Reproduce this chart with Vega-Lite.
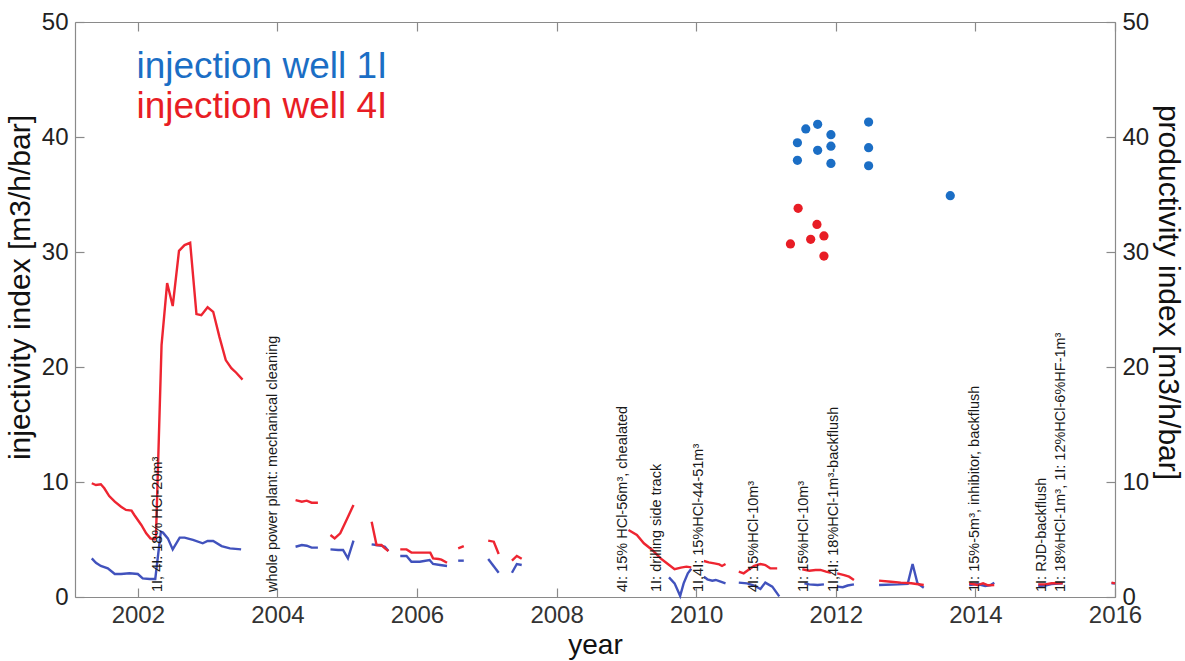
{
  "$schema": "https://vega.github.io/schema/vega-lite/v6.json",
  "width": 1040,
  "height": 575,
  "autosize": "none",
  "padding": {"left": 75, "top": 22, "right": 70, "bottom": 64},
  "background": "white",
  "config": {
    "view": {"stroke": null},
    "font": "Liberation Sans",
    "axis": {
      "grid": false,
      "domainColor": "#8a8a8a",
      "tickColor": "#8a8a8a",
      "domainWidth": 1.2,
      "tickWidth": 1.2,
      "tickSize": -9,
      "labelFlush": false,
      "labelFont": "Liberation Sans",
      "titleFont": "Liberation Sans",
      "labelColor": "#222222",
      "titleColor": "#111111",
      "titleFontWeight": "normal"
    },
    "text": {"font": "Liberation Sans"}
  },
  "datasets": {
    "lines": [
      {"series": "1I", "seg": 1, "year": 2001.34, "v": 3.36},
      {"series": "1I", "seg": 1, "year": 2001.40, "v": 2.98},
      {"series": "1I", "seg": 1, "year": 2001.47, "v": 2.70},
      {"series": "1I", "seg": 1, "year": 2001.57, "v": 2.49},
      {"series": "1I", "seg": 1, "year": 2001.67, "v": 2.0},
      {"series": "1I", "seg": 1, "year": 2001.76, "v": 2.0},
      {"series": "1I", "seg": 1, "year": 2001.88, "v": 2.06},
      {"series": "1I", "seg": 1, "year": 2002.0, "v": 2.0},
      {"series": "1I", "seg": 1, "year": 2002.07, "v": 1.62},
      {"series": "1I", "seg": 1, "year": 2002.17, "v": 1.57},
      {"series": "1I", "seg": 1, "year": 2002.25, "v": 1.57},
      {"series": "1I", "seg": 1, "year": 2002.33, "v": 5.68},
      {"series": "1I", "seg": 1, "year": 2002.36, "v": 5.6},
      {"series": "1I", "seg": 1, "year": 2002.43, "v": 5.10},
      {"series": "1I", "seg": 1, "year": 2002.50, "v": 4.14},
      {"series": "1I", "seg": 1, "year": 2002.60, "v": 5.16},
      {"series": "1I", "seg": 1, "year": 2002.67, "v": 5.16},
      {"series": "1I", "seg": 1, "year": 2002.79, "v": 4.96},
      {"series": "1I", "seg": 1, "year": 2002.93, "v": 4.67},
      {"series": "1I", "seg": 1, "year": 2003.00, "v": 4.87},
      {"series": "1I", "seg": 1, "year": 2003.08, "v": 4.87},
      {"series": "1I", "seg": 1, "year": 2003.20, "v": 4.43},
      {"series": "1I", "seg": 1, "year": 2003.32, "v": 4.23},
      {"series": "1I", "seg": 1, "year": 2003.48, "v": 4.14},
      {"series": "1I", "seg": 2, "year": 2004.26, "v": 4.37},
      {"series": "1I", "seg": 2, "year": 2004.35, "v": 4.52},
      {"series": "1I", "seg": 2, "year": 2004.42, "v": 4.46},
      {"series": "1I", "seg": 2, "year": 2004.49, "v": 4.29},
      {"series": "1I", "seg": 2, "year": 2004.58, "v": 4.29},
      {"series": "1I", "seg": 3, "year": 2004.76, "v": 4.14},
      {"series": "1I", "seg": 3, "year": 2004.87, "v": 4.09},
      {"series": "1I", "seg": 3, "year": 2004.94, "v": 4.09},
      {"series": "1I", "seg": 3, "year": 2005.01, "v": 3.36},
      {"series": "1I", "seg": 3, "year": 2005.09, "v": 4.90},
      {"series": "1I", "seg": 4, "year": 2005.35, "v": 4.58},
      {"series": "1I", "seg": 4, "year": 2005.42, "v": 4.52},
      {"series": "1I", "seg": 4, "year": 2005.49, "v": 4.46},
      {"series": "1I", "seg": 4, "year": 2005.54, "v": 4.37},
      {"series": "1I", "seg": 4, "year": 2005.59, "v": 3.99},
      {"series": "1I", "seg": 5, "year": 2005.76, "v": 3.57},
      {"series": "1I", "seg": 5, "year": 2005.85, "v": 3.57},
      {"series": "1I", "seg": 5, "year": 2005.92, "v": 3.07},
      {"series": "1I", "seg": 5, "year": 2006.04, "v": 3.07},
      {"series": "1I", "seg": 5, "year": 2006.18, "v": 3.22},
      {"series": "1I", "seg": 5, "year": 2006.23, "v": 2.87},
      {"series": "1I", "seg": 5, "year": 2006.33, "v": 2.78},
      {"series": "1I", "seg": 5, "year": 2006.43, "v": 2.70},
      {"series": "1I", "seg": 6, "year": 2006.59, "v": 3.16},
      {"series": "1I", "seg": 6, "year": 2006.67, "v": 3.16},
      {"series": "1I", "seg": 7, "year": 2007.02, "v": 3.30},
      {"series": "1I", "seg": 7, "year": 2007.17, "v": 2.11},
      {"series": "1I", "seg": 8, "year": 2007.36, "v": 2.11},
      {"series": "1I", "seg": 8, "year": 2007.43, "v": 2.87},
      {"series": "1I", "seg": 8, "year": 2007.50, "v": 2.78},
      {"series": "1I", "seg": 9, "year": 2009.61, "v": 1.7},
      {"series": "1I", "seg": 9, "year": 2009.69, "v": 1.19},
      {"series": "1I", "seg": 9, "year": 2009.77, "v": 0.1},
      {"series": "1I", "seg": 9, "year": 2009.82, "v": 1.19},
      {"series": "1I", "seg": 9, "year": 2009.88, "v": 2.06},
      {"series": "1I", "seg": 9, "year": 2009.93, "v": 2.45},
      {"series": "1I", "seg": 10, "year": 2010.11, "v": 1.77},
      {"series": "1I", "seg": 10, "year": 2010.16, "v": 1.54},
      {"series": "1I", "seg": 10, "year": 2010.23, "v": 1.42},
      {"series": "1I", "seg": 10, "year": 2010.28, "v": 1.48},
      {"series": "1I", "seg": 10, "year": 2010.35, "v": 1.33},
      {"series": "1I", "seg": 10, "year": 2010.42, "v": 1.19},
      {"series": "1I", "seg": 11, "year": 2010.61, "v": 1.25},
      {"series": "1I", "seg": 11, "year": 2010.73, "v": 1.19},
      {"series": "1I", "seg": 11, "year": 2010.83, "v": 1.0},
      {"series": "1I", "seg": 11, "year": 2010.92, "v": 0.7},
      {"series": "1I", "seg": 11, "year": 2010.99, "v": 1.25},
      {"series": "1I", "seg": 11, "year": 2011.09, "v": 0.9},
      {"series": "1I", "seg": 11, "year": 2011.19, "v": 0.05},
      {"series": "1I", "seg": 12, "year": 2011.55, "v": 1.19},
      {"series": "1I", "seg": 12, "year": 2011.62, "v": 1.10},
      {"series": "1I", "seg": 12, "year": 2011.74, "v": 1.04},
      {"series": "1I", "seg": 12, "year": 2011.83, "v": 1.10},
      {"series": "1I", "seg": 13, "year": 2012.02, "v": 0.9},
      {"series": "1I", "seg": 13, "year": 2012.10, "v": 0.85},
      {"series": "1I", "seg": 13, "year": 2012.17, "v": 1.0},
      {"series": "1I", "seg": 13, "year": 2012.26, "v": 1.1},
      {"series": "1I", "seg": 14, "year": 2012.62, "v": 1.04},
      {"series": "1I", "seg": 14, "year": 2012.89, "v": 1.10},
      {"series": "1I", "seg": 14, "year": 2013.03, "v": 1.15},
      {"series": "1I", "seg": 14, "year": 2013.10, "v": 2.87},
      {"series": "1I", "seg": 14, "year": 2013.17, "v": 1.19},
      {"series": "1I", "seg": 14, "year": 2013.26, "v": 0.81},
      {"series": "1I", "seg": 15, "year": 2013.91, "v": 1.04},
      {"series": "1I", "seg": 15, "year": 2014.03, "v": 1.13},
      {"series": "1I", "seg": 15, "year": 2014.14, "v": 0.96},
      {"series": "1I", "seg": 15, "year": 2014.22, "v": 1.04},
      {"series": "1I", "seg": 15, "year": 2014.27, "v": 1.25},
      {"series": "1I", "seg": 16, "year": 2014.90, "v": 0.96},
      {"series": "1I", "seg": 16, "year": 2015.0, "v": 1.0},
      {"series": "1I", "seg": 16, "year": 2015.09, "v": 1.13},
      {"series": "1I", "seg": 16, "year": 2015.25, "v": 1.19},
      {"series": "1I", "seg": 17, "year": 2015.95, "v": 1.19},
      {"series": "1I", "seg": 17, "year": 2016.0, "v": 1.19},
      {"series": "4I", "seg": 1, "year": 2001.34, "v": 9.89},
      {"series": "4I", "seg": 1, "year": 2001.40, "v": 9.74},
      {"series": "4I", "seg": 1, "year": 2001.47, "v": 9.80},
      {"series": "4I", "seg": 1, "year": 2001.52, "v": 9.45},
      {"series": "4I", "seg": 1, "year": 2001.59, "v": 8.78},
      {"series": "4I", "seg": 1, "year": 2001.67, "v": 8.29},
      {"series": "4I", "seg": 1, "year": 2001.76, "v": 7.85},
      {"series": "4I", "seg": 1, "year": 2001.83, "v": 7.57},
      {"series": "4I", "seg": 1, "year": 2001.91, "v": 7.51},
      {"series": "4I", "seg": 1, "year": 2001.95, "v": 7.13},
      {"series": "4I", "seg": 1, "year": 2002.05, "v": 6.26},
      {"series": "4I", "seg": 1, "year": 2002.12, "v": 5.54},
      {"series": "4I", "seg": 1, "year": 2002.18, "v": 5.10},
      {"series": "4I", "seg": 1, "year": 2002.24, "v": 5.01},
      {"series": "4I", "seg": 1, "year": 2002.26, "v": 5.25},
      {"series": "4I", "seg": 1, "year": 2002.34, "v": 21.9},
      {"series": "4I", "seg": 1, "year": 2002.42, "v": 27.3},
      {"series": "4I", "seg": 1, "year": 2002.50, "v": 25.3},
      {"series": "4I", "seg": 1, "year": 2002.59, "v": 30.1},
      {"series": "4I", "seg": 1, "year": 2002.67, "v": 30.6},
      {"series": "4I", "seg": 1, "year": 2002.75, "v": 30.8},
      {"series": "4I", "seg": 1, "year": 2002.84, "v": 24.6},
      {"series": "4I", "seg": 1, "year": 2002.91, "v": 24.5},
      {"series": "4I", "seg": 1, "year": 2003.00, "v": 25.2},
      {"series": "4I", "seg": 1, "year": 2003.08, "v": 24.8},
      {"series": "4I", "seg": 1, "year": 2003.17, "v": 22.6},
      {"series": "4I", "seg": 1, "year": 2003.26, "v": 20.6},
      {"series": "4I", "seg": 1, "year": 2003.34, "v": 19.9},
      {"series": "4I", "seg": 1, "year": 2003.41, "v": 19.5},
      {"series": "4I", "seg": 1, "year": 2003.50, "v": 18.9},
      {"series": "4I", "seg": 2, "year": 2004.26, "v": 8.43},
      {"series": "4I", "seg": 2, "year": 2004.35, "v": 8.29},
      {"series": "4I", "seg": 2, "year": 2004.42, "v": 8.38},
      {"series": "4I", "seg": 2, "year": 2004.49, "v": 8.20},
      {"series": "4I", "seg": 2, "year": 2004.58, "v": 8.20},
      {"series": "4I", "seg": 3, "year": 2004.76, "v": 5.39},
      {"series": "4I", "seg": 3, "year": 2004.82, "v": 5.10},
      {"series": "4I", "seg": 3, "year": 2004.90, "v": 5.54},
      {"series": "4I", "seg": 3, "year": 2004.99, "v": 6.70},
      {"series": "4I", "seg": 3, "year": 2005.09, "v": 8.0},
      {"series": "4I", "seg": 4, "year": 2005.35, "v": 6.55},
      {"series": "4I", "seg": 4, "year": 2005.42, "v": 4.52},
      {"series": "4I", "seg": 4, "year": 2005.49, "v": 4.52},
      {"series": "4I", "seg": 4, "year": 2005.54, "v": 4.23},
      {"series": "4I", "seg": 4, "year": 2005.59, "v": 4.00},
      {"series": "4I", "seg": 5, "year": 2005.76, "v": 4.14},
      {"series": "4I", "seg": 5, "year": 2005.85, "v": 4.14},
      {"series": "4I", "seg": 5, "year": 2005.92, "v": 3.86},
      {"series": "4I", "seg": 5, "year": 2006.04, "v": 3.86},
      {"series": "4I", "seg": 5, "year": 2006.19, "v": 3.86},
      {"series": "4I", "seg": 5, "year": 2006.23, "v": 3.36},
      {"series": "4I", "seg": 5, "year": 2006.31, "v": 3.30},
      {"series": "4I", "seg": 5, "year": 2006.35, "v": 3.25},
      {"series": "4I", "seg": 5, "year": 2006.43, "v": 2.98},
      {"series": "4I", "seg": 6, "year": 2006.59, "v": 4.23},
      {"series": "4I", "seg": 6, "year": 2006.67, "v": 4.43},
      {"series": "4I", "seg": 7, "year": 2007.02, "v": 4.90},
      {"series": "4I", "seg": 7, "year": 2007.10, "v": 4.81},
      {"series": "4I", "seg": 7, "year": 2007.17, "v": 3.74},
      {"series": "4I", "seg": 8, "year": 2007.36, "v": 3.16},
      {"series": "4I", "seg": 8, "year": 2007.43, "v": 3.57},
      {"series": "4I", "seg": 8, "year": 2007.50, "v": 3.33},
      {"series": "4I", "seg": 9, "year": 2009.03, "v": 5.83},
      {"series": "4I", "seg": 9, "year": 2009.15, "v": 5.39},
      {"series": "4I", "seg": 9, "year": 2009.25, "v": 4.67},
      {"series": "4I", "seg": 9, "year": 2009.37, "v": 4.09},
      {"series": "4I", "seg": 9, "year": 2009.49, "v": 3.36},
      {"series": "4I", "seg": 9, "year": 2009.58, "v": 2.93},
      {"series": "4I", "seg": 9, "year": 2009.69, "v": 2.41},
      {"series": "4I", "seg": 9, "year": 2009.78, "v": 2.55},
      {"series": "4I", "seg": 9, "year": 2009.86, "v": 2.64},
      {"series": "4I", "seg": 9, "year": 2009.93, "v": 2.58},
      {"series": "4I", "seg": 10, "year": 2010.11, "v": 3.13},
      {"series": "4I", "seg": 10, "year": 2010.18, "v": 3.01},
      {"series": "4I", "seg": 10, "year": 2010.26, "v": 2.93},
      {"series": "4I", "seg": 10, "year": 2010.33, "v": 2.84},
      {"series": "4I", "seg": 10, "year": 2010.37, "v": 2.70},
      {"series": "4I", "seg": 10, "year": 2010.42, "v": 2.87},
      {"series": "4I", "seg": 11, "year": 2010.61, "v": 2.20},
      {"series": "4I", "seg": 11, "year": 2010.68, "v": 2.06},
      {"series": "4I", "seg": 11, "year": 2010.76, "v": 2.41},
      {"series": "4I", "seg": 11, "year": 2010.83, "v": 2.7},
      {"series": "4I", "seg": 11, "year": 2010.92, "v": 2.87},
      {"series": "4I", "seg": 11, "year": 2010.99, "v": 2.78},
      {"series": "4I", "seg": 11, "year": 2011.06, "v": 2.49},
      {"series": "4I", "seg": 11, "year": 2011.16, "v": 2.49},
      {"series": "4I", "seg": 12, "year": 2011.52, "v": 2.41},
      {"series": "4I", "seg": 12, "year": 2011.62, "v": 2.29},
      {"series": "4I", "seg": 12, "year": 2011.71, "v": 2.35},
      {"series": "4I", "seg": 12, "year": 2011.78, "v": 2.35},
      {"series": "4I", "seg": 12, "year": 2011.86, "v": 2.2},
      {"series": "4I", "seg": 12, "year": 2011.93, "v": 2.1},
      {"series": "4I", "seg": 13, "year": 2012.02, "v": 2.06},
      {"series": "4I", "seg": 13, "year": 2012.12, "v": 1.91},
      {"series": "4I", "seg": 13, "year": 2012.19, "v": 1.77},
      {"series": "4I", "seg": 13, "year": 2012.26, "v": 1.48},
      {"series": "4I", "seg": 14, "year": 2012.62, "v": 1.42},
      {"series": "4I", "seg": 14, "year": 2012.79, "v": 1.33},
      {"series": "4I", "seg": 14, "year": 2012.93, "v": 1.25},
      {"series": "4I", "seg": 14, "year": 2013.08, "v": 1.19},
      {"series": "4I", "seg": 14, "year": 2013.26, "v": 1.04},
      {"series": "4I", "seg": 15, "year": 2013.91, "v": 1.19},
      {"series": "4I", "seg": 15, "year": 2014.03, "v": 1.04},
      {"series": "4I", "seg": 15, "year": 2014.11, "v": 1.19},
      {"series": "4I", "seg": 15, "year": 2014.18, "v": 1.02},
      {"series": "4I", "seg": 15, "year": 2014.27, "v": 1.04},
      {"series": "4I", "seg": 16, "year": 2014.90, "v": 1.10},
      {"series": "4I", "seg": 16, "year": 2015.0, "v": 1.10},
      {"series": "4I", "seg": 16, "year": 2015.09, "v": 1.19},
      {"series": "4I", "seg": 16, "year": 2015.25, "v": 1.19},
      {"series": "4I", "seg": 17, "year": 2015.95, "v": 1.25},
      {"series": "4I", "seg": 17, "year": 2016.0, "v": 1.19}
    ],
    "points": [
      {"series": "1I", "year": 2011.45, "v": 39.5},
      {"series": "1I", "year": 2011.57, "v": 40.7},
      {"series": "1I", "year": 2011.74, "v": 41.1},
      {"series": "1I", "year": 2011.93, "v": 40.2},
      {"series": "1I", "year": 2011.45, "v": 37.97},
      {"series": "1I", "year": 2011.74, "v": 38.84},
      {"series": "1I", "year": 2011.93, "v": 39.2},
      {"series": "1I", "year": 2011.93, "v": 37.7},
      {"series": "1I", "year": 2012.47, "v": 41.3},
      {"series": "1I", "year": 2012.47, "v": 39.07},
      {"series": "1I", "year": 2012.47, "v": 37.5},
      {"series": "1I", "year": 2013.64, "v": 34.9},
      {"series": "4I", "year": 2011.46, "v": 33.8},
      {"series": "4I", "year": 2011.73, "v": 32.4},
      {"series": "4I", "year": 2011.83, "v": 31.4},
      {"series": "4I", "year": 2011.64, "v": 31.1},
      {"series": "4I", "year": 2011.35, "v": 30.7},
      {"series": "4I", "year": 2011.83, "v": 29.65}
    ],
    "notes": [
      {"year": 2002.35, "label": "1I, 4I: 18% HCl-20m³"},
      {"year": 2003.99, "label": "whole power plant: mechanical cleaning"},
      {"year": 2009.01, "label": "4I: 15% HCl-56m³, chealated"},
      {"year": 2009.49, "label": "1I: drilling side track"},
      {"year": 2010.10, "label": "1I,4I: 15%HCl-44-51m³"},
      {"year": 2010.88, "label": "4I: 15%HCl-10m³"},
      {"year": 2011.60, "label": "1I: 15%HCl-10m³"},
      {"year": 2012.03, "label": "1I,4I: 18%HCl-1m³-backflush"},
      {"year": 2014.05, "label": "1I: 15%-5m³, inhibitor, backflush"},
      {"year": 2015.01, "label": "1I: RJD-backflush"},
      {"year": 2015.28, "label": "1I: 18%HCl-1m³, 1I: 12%HCl-6%HF-1m³"}
    ],
    "legend": [
      {"series": "1I", "label": "injection well 1I", "year": 2001.98, "v": 45.1},
      {"series": "4I", "label": "injection well 4I", "year": 2001.98, "v": 41.65}
    ]
  },
  "resolve": {"scale": {"x": "independent", "y": "independent", "color": "independent"}},
  "layer": [
    {
      "data": {"name": "lines"},
      "mark": {"type": "line", "strokeWidth": 2.4, "interpolate": "linear"},
      "encoding": {
        "x": {"field": "year", "type": "quantitative",
              "scale": {"domain": [2001.1, 2016], "nice": false, "zero": false},
              "axis": {"orient": "bottom", "values": [2002, 2004, 2006, 2008, 2010, 2012, 2014, 2016], "format": "d",
                       "labelFontSize": 24, "labelColor": "#333333", "labelPadding": 15,
                       "title": "year", "titleFontSize": 28, "titlePadding": 4}},
        "y": {"field": "v", "type": "quantitative",
              "scale": {"domain": [0, 50], "nice": false},
              "axis": {"orient": "left", "values": [0, 10, 20, 30, 40, 50],
                       "labelFontSize": 24, "labelPadding": 16,
                       "title": "injectivity index [m3/h/bar]", "titleFontSize": 30, "titlePadding": 6, "titleY": 265}},
        "color": {"field": "series", "type": "nominal",
                  "scale": {"domain": ["1I", "4I"], "range": ["#4152bd", "#ee2531"]}, "legend": null},
        "detail": {"field": "seg", "type": "nominal"},
        "order": {"field": "year", "type": "quantitative"}
      }
    },
    {
      "data": {"name": "points"},
      "mark": {"type": "circle", "size": 85, "opacity": 1},
      "encoding": {
        "x": {"field": "year", "type": "quantitative",
              "scale": {"domain": [2001.1, 2016], "nice": false, "zero": false},
              "axis": {"orient": "top", "values": [2002, 2004, 2006, 2008, 2010, 2012, 2014, 2016], "labels": false, "title": null}},
        "y": {"field": "v", "type": "quantitative",
              "scale": {"domain": [0, 50], "nice": false},
              "axis": {"orient": "right", "values": [0, 10, 20, 30, 40, 50],
                       "labelFontSize": 24, "labelPadding": 16,
                       "title": "productivity index [m3/h/bar]", "titleFontSize": 30, "titlePadding": 4, "titleY": 270}},
        "color": {"field": "series", "type": "nominal",
                  "scale": {"domain": ["1I", "4I"], "range": ["#1b6ec5", "#e81d25"]}, "legend": null}
      }
    },
    {
      "data": {"name": "notes"},
      "mark": {"type": "text", "angle": 270, "align": "left", "baseline": "alphabetic", "fontSize": 14.5, "color": "#1a1a1a", "dx": 5},
      "encoding": {
        "x": {"field": "year", "type": "quantitative",
              "scale": {"domain": [2001.1, 2016], "nice": false, "zero": false}, "axis": null},
        "y": {"datum": 0, "type": "quantitative", "scale": {"domain": [0, 50], "nice": false}, "axis": null},
        "text": {"field": "label", "type": "nominal"}
      }
    },
    {
      "data": {"name": "legend"},
      "mark": {"type": "text", "align": "left", "baseline": "alphabetic", "fontSize": 37},
      "encoding": {
        "x": {"field": "year", "type": "quantitative",
              "scale": {"domain": [2001.1, 2016], "nice": false, "zero": false}, "axis": null},
        "y": {"field": "v", "type": "quantitative", "scale": {"domain": [0, 50], "nice": false}, "axis": null},
        "text": {"field": "label", "type": "nominal"},
        "color": {"field": "series", "type": "nominal",
                  "scale": {"domain": ["1I", "4I"], "range": ["#1b6ec5", "#e81d25"]}, "legend": null}
      }
    }
  ]
}
